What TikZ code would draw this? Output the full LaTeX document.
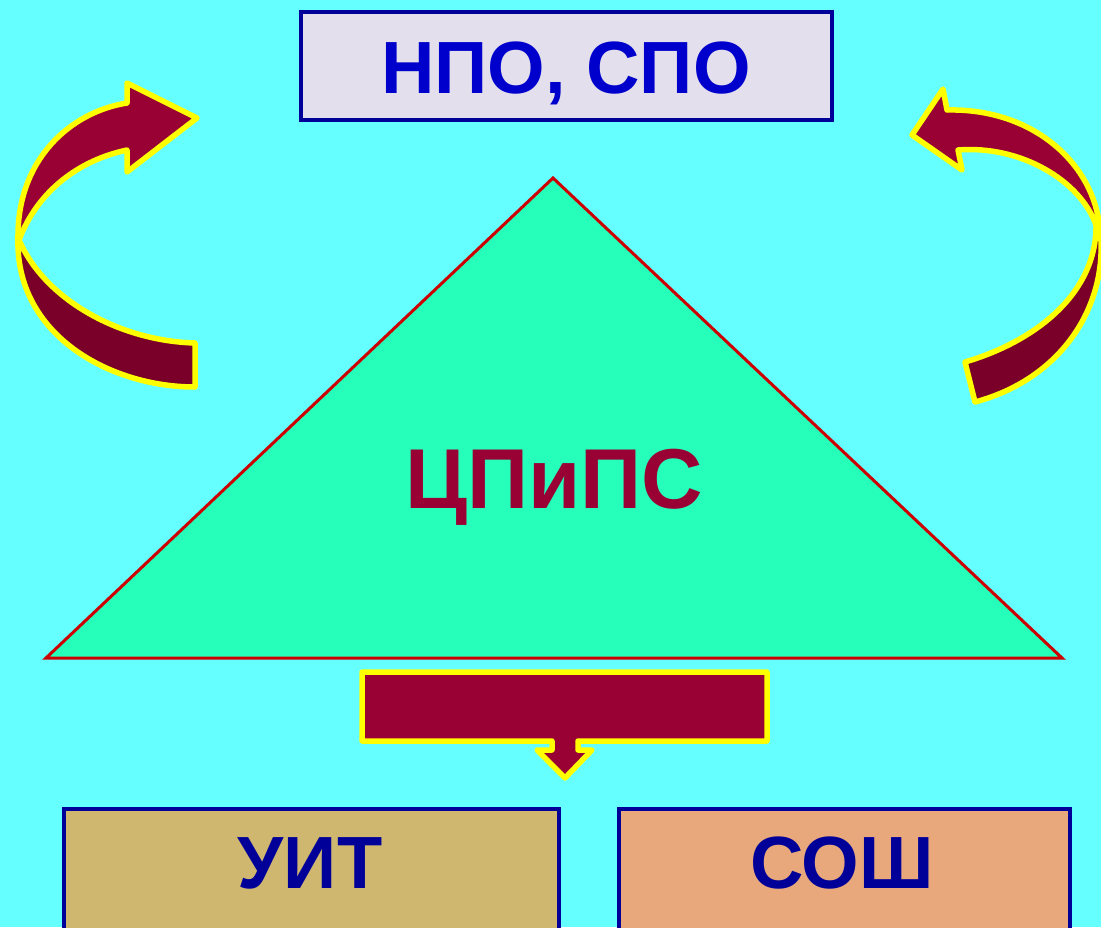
\documentclass[tikz,border=0pt]{standalone}
\usepackage{fontspec}
\setmainfont{Liberation Sans}
\definecolor{bg}{HTML}{66FFFF}
\definecolor{navy}{HTML}{000099}
\definecolor{royal}{HTML}{0000CC}
\definecolor{lav}{HTML}{E4DFEC}
\definecolor{khaki}{HTML}{CFB770}
\definecolor{peach}{HTML}{E8A87C}
\definecolor{mint}{HTML}{26FFBA}
\definecolor{wine}{HTML}{990033}
\definecolor{darkwine}{HTML}{7A0029}
\definecolor{yel}{HTML}{FFFF00}
\definecolor{tri}{HTML}{CC0000}
\tikzset{
  box/.style={draw=navy, line width=3.5pt, rectangle, inner sep=0pt},
  big/.style={font=\fontsize{74}{80}\selectfont\bfseries, anchor=base, inner sep=0pt},
  arr/.style={draw=yel, line width=5.5pt, line join=round},
}
\begin{document}
\begin{tikzpicture}[x=1pt,y=-1pt]
\useasboundingbox (0,0) rectangle (1101,927);
\clip (0,0) rectangle (1101,927);
\fill[bg] (0,0) rectangle (1101,927);
% top box
\node[box, fill=lav, minimum width=531pt, minimum height=108pt] (npo) at (566.5,66) {};
\node[big, text=royal] (npoT) at (566,93) {НПО, СПО};
% triangle
\draw[fill=mint, draw=tri, line width=3pt, line join=miter] (553,178) -- (46,658) -- (1062,658) -- cycle;
\node[big, font=\fontsize{85}{90}\selectfont\bfseries, text=wine] (center) at (554,508) {ЦПиПС};
% down arrow
\draw[arr, fill=wine] (362,672) -- (767,672) -- (767,741) -- (578,741) -- (578,750) -- (592,750)
  -- (565,778) -- (537,750) -- (552,750) -- (552,741) -- (362,741) -- cycle;
% bottom boxes
\node[box, fill=khaki, minimum width=495pt, minimum height=200pt, anchor=north west] (uit) at (62,807) {};
\node[big, text=navy] (uitT) at (310,888) {УИТ};
\node[box, fill=peach, minimum width=451pt, minimum height=200pt, anchor=north west] (sosh) at (617,807) {};
\node[big, text=navy] (soshT) at (842,888) {СОШ};
% left curved arrow
\draw[arr, fill=darkwine] (18,238) .. controls (15,335) and (110,387) .. (195,387)
  -- (195,343) .. controls (120,341) and (45,300) .. (19,240) -- cycle;
\draw[arr, fill=wine] (18,238) .. controls (17,160) and (70,112) .. (127,103)
  -- (127,83) -- (197,118) -- (127,172) -- (127,150)
  .. controls (80,160) and (38,190) .. (19,240) -- cycle;
% right curved arrow
\draw[arr, fill=darkwine] (1099,222) .. controls (1112,300) and (1065,378) .. (975,402)
  -- (965,362) .. controls (1040,340) and (1097,290) .. (1096,225) -- cycle;
\draw[arr, fill=wine] (1099,222) .. controls (1090,160) and (1030,108) .. (947,110)
  -- (943,89) -- (912,135) -- (962,170) -- (958,150)
  .. controls (1020,145) and (1080,180) .. (1096,225) -- cycle;
\end{tikzpicture}
\end{document}
